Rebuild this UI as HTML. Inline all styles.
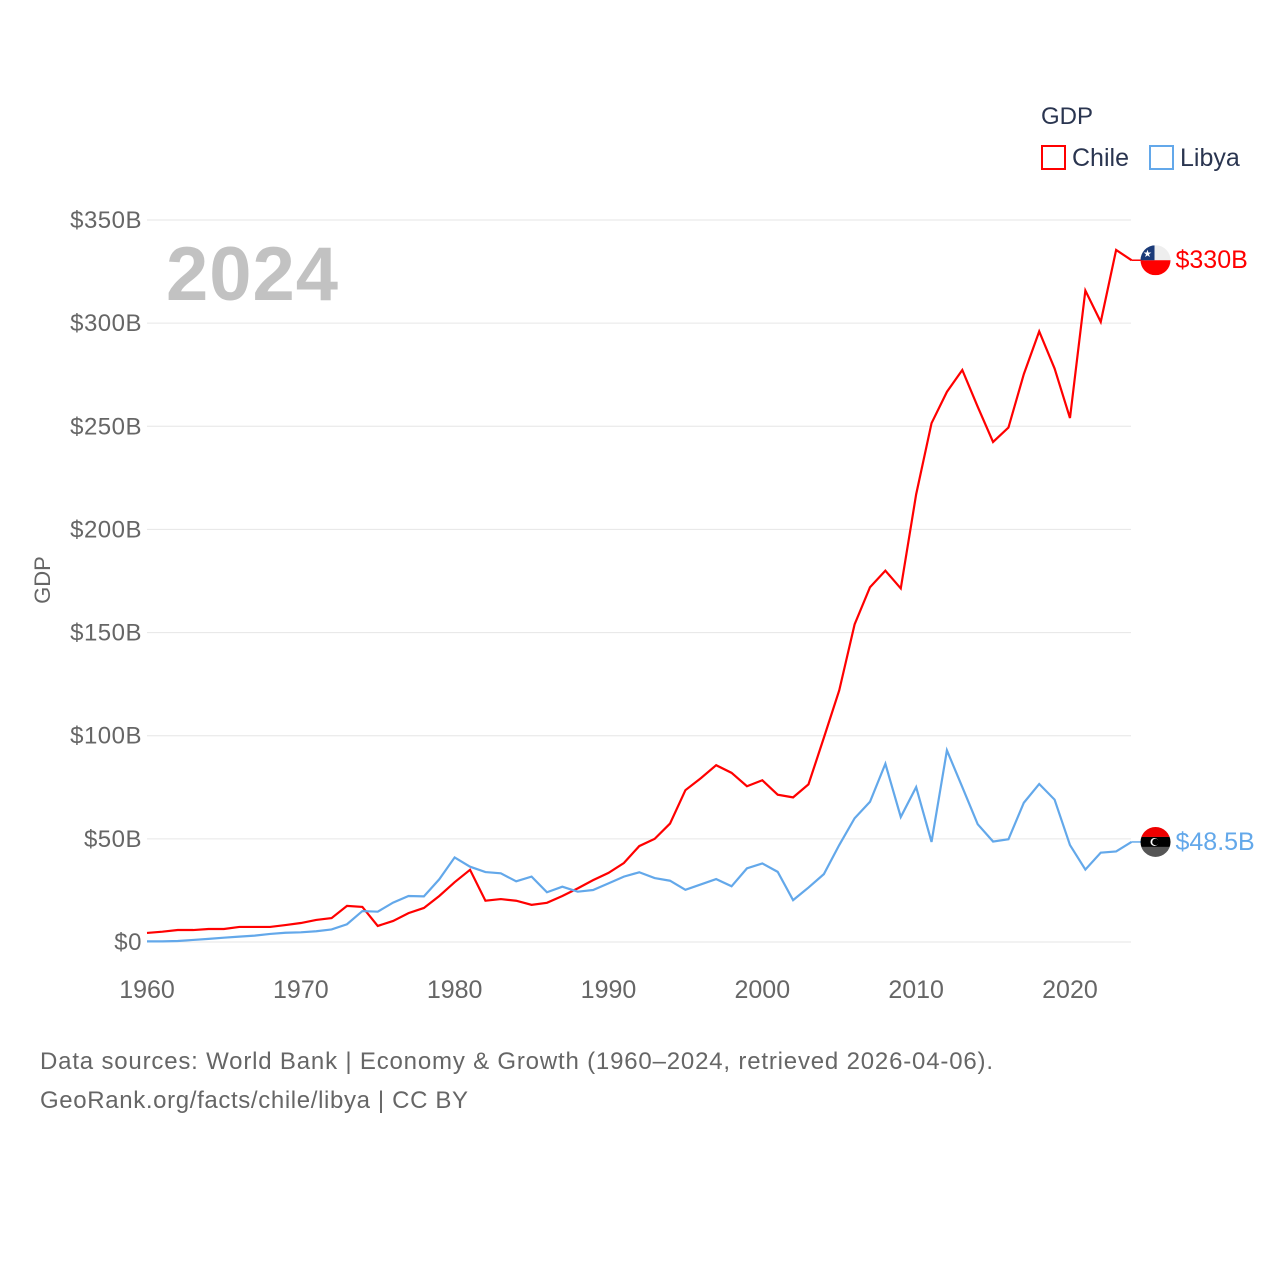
<!DOCTYPE html>
<html><head><meta charset="utf-8"><style>
body{margin:0;background:#fff;font-family:"Liberation Sans",sans-serif}
svg text{font-family:"Liberation Sans",sans-serif}
</style></head><body>
<svg id="c" width="1280" height="1280" xmlns="http://www.w3.org/2000/svg">
<text x="1041" y="124" font-size="24" fill="#2a3550">GDP</text>
<rect x="1042" y="146" width="23" height="23" fill="none" stroke="#ff0000" stroke-width="2"/>
<text x="1072" y="166" font-size="25" fill="#2a3550">Chile</text>
<rect x="1150" y="146" width="23" height="23" fill="none" stroke="#63a8ea" stroke-width="2"/>
<text x="1180" y="166" font-size="25" fill="#2a3550">Libya</text>
<text x="166" y="300" font-size="76" font-weight="bold" fill="#c2c2c2" textLength="172">2024</text>
<text transform="translate(50,580) rotate(-90)" text-anchor="middle" font-size="22" fill="#666">GDP</text>
<g id="grid"></g><g id="series"></g>
<text x="40" y="1069" font-size="24" fill="#666" textLength="953">Data sources: World Bank | Economy &amp; Growth (1960–2024, retrieved 2026-04-06).</text>
<text x="40" y="1108" font-size="24" fill="#666" textLength="428">GeoRank.org/facts/chile/libya | CC BY</text>
</svg>
<script>
const years=[];for(let y=1960;y<=2024;y++)years.push(y);
const chile=[4.4,5.0,5.8,5.8,6.3,6.3,7.3,7.3,7.3,8.2,9.2,10.7,11.6,17.5,17,7.8,10.2,14,16.5,22.3,29,35,20,20.8,20,18,19,22.3,26,30,33.5,38.3,46.5,50,57.4,73.6,79.4,85.7,82,75.5,78.4,71.4,70.1,76.4,99,122,154,172,180,171.4,217,251.5,266.7,277.3,259.5,242.4,249.4,275.3,296,278,254,315.8,300.6,335.5,330.5];
const libya=[0.3,0.3,0.5,1,1.5,2.1,2.6,3.1,3.9,4.5,4.7,5.2,6.1,8.6,15,14.7,19.1,22.3,22.1,30.4,41,36.5,33.9,33.3,29.4,31.7,24.1,26.8,24.4,25.2,28.4,31.7,33.8,31,29.7,25.3,27.9,30.5,27,35.7,38.1,34,20.3,26.4,32.9,47,60,68,86.4,60.6,75.1,48.5,92.9,75.1,57.1,48.7,49.8,67.5,76.6,69,47,35.1,43.3,43.9,48.5];
const yTicks=[0,50,100,150,200,250,300,350];
const yTickLabels=["$0","$50B","$100B","$150B","$200B","$250B","$300B","$350B"];
const xTicks=[1960,1970,1980,1990,2000,2010,2020];
const NS="http://www.w3.org/2000/svg";
const X=y=>147+(y-1960)*15.383, Y=v=>942-v*(722/350);
function mk(t,a,p){const e=document.createElementNS(NS,t);for(const k in a)e.setAttribute(k,a[k]);p.appendChild(e);return e;}
const g=document.getElementById('grid'),s=document.getElementById('series');
yTicks.forEach((v,i)=>{const l=mk('line',{x1:147,x2:1131,y1:Y(v),y2:Y(v),stroke:'#e6e6e6','stroke-width':1},g);


const t=mk('text',{x:142,y:Y(v)+8,'text-anchor':'end','font-size':24,fill:'#666','letter-spacing':'0.5'},g);t.textContent=yTickLabels[i];

});
xTicks.forEach(v=>{const t=mk('text',{x:X(v),y:998,'text-anchor':'middle','font-size':25,fill:'#666'},g);t.textContent=v;

});
function line(d,c,n){const p=mk('polyline',{points:d.map((v,i)=>X(years[i])+','+Y(v)).join(' '),fill:'none',stroke:c,'stroke-width':2.2,'stroke-linejoin':'miter'},s);

}
line(chile,'#ff0000','chile-line');line(libya,'#63a8ea','libya-line');
function end(d,c,lbl,n,flag){const v=d[d.length-1],y=Y(v),x=X(2024);
const l=mk('line',{x1:x,x2:x+12,y1:y,y2:y,stroke:c,'stroke-width':1.5},s);


const f=mk('g',{},s);


f.innerHTML=flag(x+24,y);
const t=mk('text',{x:x+44,y:y+8,'font-size':25,fill:c},s);t.textContent=lbl;

}
end(chile,'#ff0000','$330B','chile',(cx,cy)=>`<clipPath id="cc"><circle cx="${cx}" cy="${cy}" r="15"/></clipPath><g clip-path="url(#cc)"><rect x="${cx-15}" y="${cy-15}" width="30" height="15" fill="#eee"/><rect x="${cx-15}" y="${cy}" width="30" height="15" fill="#f00"/><rect x="${cx-15}" y="${cy-15}" width="14" height="15" fill="#1a3a78"/><text x="${cx-8}" y="${cy-3}" font-size="10" fill="#fff" text-anchor="middle">★</text></g>`);
end(libya,'#63a8ea','$48.5B','libya',(cx,cy)=>`<clipPath id="lc"><circle cx="${cx}" cy="${cy}" r="15"/></clipPath><g clip-path="url(#lc)"><rect x="${cx-15}" y="${cy-15}" width="30" height="10" fill="#e00"/><rect x="${cx-15}" y="${cy-5}" width="30" height="10" fill="#000"/><rect x="${cx-15}" y="${cy+5}" width="30" height="10" fill="#555"/><circle cx="${cx-1}" cy="${cy}" r="4" fill="#fff"/><circle cx="${cx}" cy="${cy}" r="3.3" fill="#000"/></g>`);
</script>
</body></html>
